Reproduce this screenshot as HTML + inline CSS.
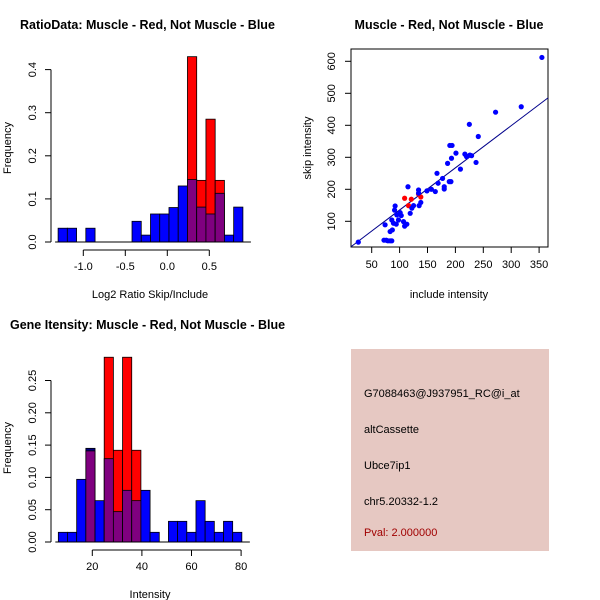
<!DOCTYPE html>
<html><head><meta charset="utf-8"><style>
html,body{margin:0;padding:0;background:#fff;}
svg{display:block;font-family:"Liberation Sans",sans-serif;}
</style></head><body>
<svg id="c" width="600" height="600" xmlns="http://www.w3.org/2000/svg">
<rect x="351" y="349" width="198" height="202" fill="#e6c8c2"/>
<g font-size="11" fill="#000">
<text x="364" y="397">G7088463@J937951_RC@i_at</text>
<text x="364" y="433">altCassette</text>
<text x="364" y="469">Ubce7ip1</text>
<text x="364" y="505">chr5.20332-1.2</text>
<text x="364" y="536" fill="#a00000">Pval: 2.000000</text>
</g>
</svg>
<script>
// ---- Histogram 1 data (Log2 ratio) ----
const h1Start = -1.3;
const h1Width = 0.11;
const h1Blue = [0.032,0.032,0,0.032,0,0,0,0,0.048,0.016,0.065,0.065,0.080,0.130,0.145,0.081,0.065,0.113,0.016,0.081];
const h1Red  = [0,0,0,0,0,0,0,0,0,0,0,0,0,0,0.43,0.143,0.285,0.143,0,0];
const h1XTicks = [-1,-0.5,0,0.5];
const h1XLabels = ["-1.0","-0.5","0.0","0.5"];
const h1YTicks = [0,0.1,0.2,0.3,0.4];
const h1YLabels = ["0.0","0.1","0.2","0.3","0.4"];
// ---- Histogram 2 data (Intensity) ----
const h2Start = 6.3;
const h2Width = 3.7;
const h2Blue = [0.015,0.015,0.097,0.145,0.064,0.129,0.047,0.080,0.064,0.080,0.015,0,0.032,0.032,0.015,0.064,0.032,0.015,0.032,0.015];
const h2Red  = [0,0,0,0.141,0,0.286,0.142,0.286,0.142,0,0,0,0,0,0,0,0,0,0,0];
const h2XTicks = [20,40,60,80];
const h2XLabels = ["20","40","60","80"];
const h2YTicks = [0,0.05,0.10,0.15,0.20,0.25];
const h2YLabels = ["0.00","0.05","0.10","0.15","0.20","0.25"];
// ---- Scatter data ----
const scBlueX = [26,72,76,79,83,86,74,92,91,95,101,103,98,107,109,113,115,119,122,125,134,134,138,135,149,157,164,167,169,177,180,180,186,189,192,190,194,193,201,209,217,220,226,229,225,237,241,272,318,355,83,87,89,94,86];
const scBlueY = [35,41,41,39,39,39,89,148,135,120,127,118,104,99,85,91,208,125,141,149,198,188,159,149,195,200,193,250,219,234,208,201,281,224,224,337,337,297,313,263,310,302,307,305,403,284,365,441,458,612,68,73,94,91,104];
const scRedX = [109,116,121,134,138];
const scRedY = [172,149,169,185,176];
const fitA = 3.5, fitB = 1.318;
const scXTicks = [50,100,150,200,250,300,350];
const scYTicks = [100,200,300,400,500,600];

const svg = document.getElementById('c');
const NS = 'http://www.w3.org/2000/svg';
function mk(tag, attrs, parent){const e=document.createElementNS(NS,tag);for(const k in attrs)e.setAttribute(k,attrs[k]);(parent||svg).appendChild(e);return e;}
function txt(x,y,s,size,anchor,rot,bold){const t=mk('text',{x:x,y:y,'font-size':size,'text-anchor':anchor||'middle'});if(rot)t.setAttribute('transform','rotate(-90 '+x+' '+y+')');if(bold)t.setAttribute('font-weight','bold');t.textContent=s;return t;}

function hist(cfg){
  const xs=v=>cfg.x0+(v-cfg.xv0)*cfg.xk;
  const ys=v=>cfg.y0-v*cfg.yk;
  const g=mk('g',{});
  
  
  for(let i=0;i<cfg.blue.length;i++){
    const a=xs(cfg.start+i*cfg.w), b=xs(cfg.start+(i+1)*cfg.w);
    const bv=cfg.blue[i], rv=cfg.red[i];
    if(rv>0){const r=mk('rect',{x:a,y:ys(rv),width:b-a,height:ys(0)-ys(rv),fill:'#ff0000',stroke:'#000','stroke-width':0.8},g);
      
      }
    if(bv>0){
      const col = rv>0 ? '#7f007f' : '#0000ff';
      const top = rv>0 ? Math.min(bv,rv) : bv;
      if(rv>0 && bv>rv){mk('rect',{x:a,y:ys(bv),width:b-a,height:ys(rv)-ys(bv),fill:'#00007f',stroke:'#000','stroke-width':0.8},g);}
      const r=mk('rect',{x:a,y:ys(top),width:b-a,height:ys(0)-ys(top),fill:col,stroke:'#000','stroke-width':0.8},g);
      
      
    }
  }
  const yt=cfg.yt;
  mk('line',{x1:cfg.x0a,y1:ys(yt[0]),x2:cfg.x0a,y2:ys(yt[yt.length-1]),stroke:'#000'},g);
  yt.forEach((v,i)=>{mk('line',{x1:cfg.x0a,y1:ys(v),x2:cfg.x0a-6,y2:ys(v),stroke:'#000'},g);txt(cfg.x0a-15,ys(v),cfg.yl[i],11,'middle',true);});
  const xt=cfg.xt;
  const ay=cfg.axisY;
  mk('line',{x1:xs(xt[0]),y1:ay,x2:xs(xt[xt.length-1]),y2:ay,stroke:'#000'},g);
  xt.forEach((v,i)=>{mk('line',{x1:xs(v),y1:ay,x2:xs(v),y2:ay+6,stroke:'#000'},g);txt(xs(v),ay+20,cfg.xl[i],11);});
  mk('line',{x1:xs(cfg.start)-3,y1:ys(0),x2:xs(cfg.start+cfg.w*cfg.blue.length)+8,y2:ys(0),stroke:'#000'},g);
}

hist({name:'ratio-histogram',start:h1Start,w:h1Width,blue:h1Blue,red:h1Red,x0:167.3,xv0:0,xk:84,y0:242,yk:431,x0a:51,yt:h1YTicks,yl:h1YLabels,xt:h1XTicks,xl:h1XLabels,axisY:250});
hist({name:'intensity-histogram',start:h2Start,w:h2Width,blue:h2Blue,red:h2Red,x0:92.3,xv0:20,xk:2.48,y0:542,yk:646,x0a:51,yt:h2YTicks,yl:h2YLabels,xt:h2XTicks,xl:h2XLabels,axisY:550});

let t;
t=txt(20,29,'RatioData: Muscle - Red, Not Muscle - Blue',12.5,'start',false,true);
t=txt(150,298,'Log2 Ratio Skip/Include',11);
t=txt(11,148,'Frequency',11,'middle',true);
t=txt(10,329,'Gene Itensity: Muscle - Red, Not Muscle - Blue',12.5,'start',false,true);
t=txt(150,598,'Intensity',11);
t=txt(11,448,'Frequency',11,'middle',true);

const sx=v=>371.7+(v-50)*0.558;
const sy=v=>221.3-(v-100)*0.32;
const sg=mk('g',{});


mk('rect',{x:351,y:49,width:197,height:198,fill:'none',stroke:'#000'},sg);
const fl=mk('line',{x1:351,y1:sy(fitA+fitB*((351-371.7)/0.558+50)),x2:548,y2:sy(fitA+fitB*((548-371.7)/0.558+50)),stroke:'#00008b','stroke-width':1},sg);


scRedX.forEach((v,i)=>{const c=mk('circle',{cx:sx(v),cy:sy(scRedY[i]),r:2.6,fill:'#ff0000'},sg);
  
  });
scBlueX.forEach((v,i)=>{const c=mk('circle',{cx:sx(v),cy:sy(scBlueY[i]),r:2.6,fill:'#0000ff'},sg);
  
  });
scXTicks.forEach(v=>{mk('line',{x1:sx(v),y1:247,x2:sx(v),y2:253,stroke:'#000'},sg);txt(sx(v),268,String(v),11);});
scYTicks.forEach(v=>{mk('line',{x1:351,y1:sy(v),x2:345,y2:sy(v),stroke:'#000'},sg);txt(335,sy(v),String(v),11,'middle',true);});
t=txt(449,29,'Muscle - Red, Not Muscle - Blue',12.5,'middle',false,true);
t=txt(449,298,'include intensity',11);
t=txt(311,148,'skip intensity',11,'middle',true);
</script>
</body></html>
